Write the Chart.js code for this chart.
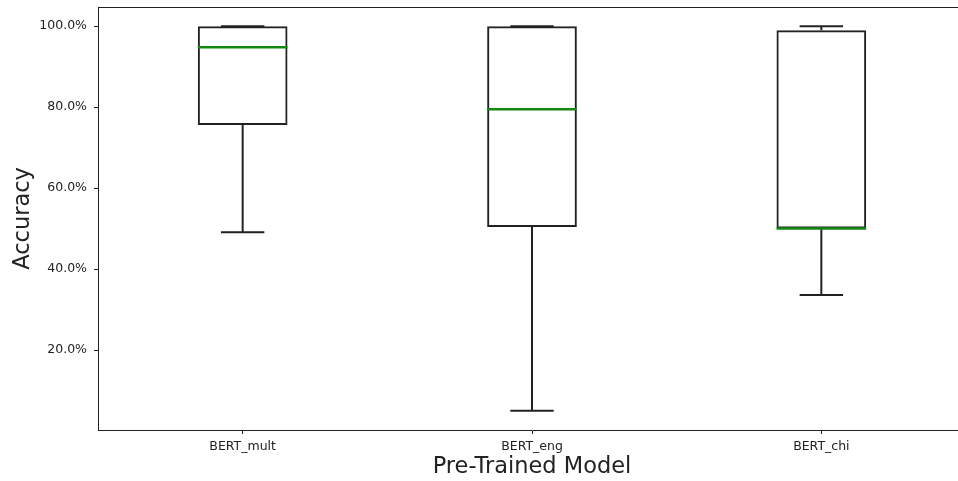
<!DOCTYPE html>
<html>
<head>
<meta charset="utf-8">
<script src="https://cdn.jsdelivr.net/npm/chart.js@4.4.0/dist/chart.umd.min.js"></script>
<style>
    html, body { margin: 0; padding: 0; background: #fff; overflow: hidden; }
    #wrap { width: 968px; height: 481px; position: relative; }
</style>
</head>
<body>
<div id="wrap"><canvas id="chart"></canvas></div>
<script>
// Box plot values (accuracy, %)
const models = ['BERT_mult', 'BERT_eng', 'BERT_chi'];
const whiskerLow = [49.1, 5.0, 33.6];
const quartile1 = [75.6, 50.4, 50.0];
const medians = [94.8, 79.5, 50.0];
const quartile3 = [100.0, 100.0, 99.0];
const whiskerHigh = [100.0, 100.0, 100.0];
const yTicks = [20, 40, 60, 80, 100];

const boxWidth = 0.31;   // fraction of a category slot
const capWidth = 0.15;
const ink = '#222';

// whiskers, caps, medians and the top spine
const boxExtras = {
    id: 'boxExtras',
    afterDatasetsDraw(chart) {
        const ctx = chart.ctx;
        const x = chart.scales.x;
        const y = chart.scales.y;
        const slot = x.getPixelForValue(1) - x.getPixelForValue(0);
        ctx.save();
        ctx.lineCap = 'butt';
        models.forEach((m, i) => {
            const cx = x.getPixelForValue(i);
            ctx.strokeStyle = ink;
            ctx.lineWidth = 2;
            // whiskers
            ctx.beginPath();
            ctx.moveTo(cx, y.getPixelForValue(quartile1[i]));
            ctx.lineTo(cx, y.getPixelForValue(whiskerLow[i]));
            ctx.moveTo(cx, y.getPixelForValue(quartile3[i]));
            ctx.lineTo(cx, y.getPixelForValue(whiskerHigh[i]));
            ctx.stroke();
            // caps
            const hw = slot * capWidth / 2;
            [whiskerLow[i], whiskerHigh[i]].forEach(v => {
                const py = y.getPixelForValue(v);
                ctx.beginPath();
                ctx.moveTo(cx - hw, py);
                ctx.lineTo(cx + hw, py);
                ctx.stroke();
            });
            // median
            const bw = slot * boxWidth / 2;
            const my = y.getPixelForValue(medians[i]);
            ctx.strokeStyle = '#128a12';
            ctx.lineWidth = 2.5;
            ctx.beginPath();
            ctx.moveTo(cx - bw, my);
            ctx.lineTo(cx + bw, my);
            ctx.stroke();
        });
        // top and right spines
        const a = chart.chartArea;
        ctx.strokeStyle = ink;
        ctx.lineWidth = 1;
        ctx.beginPath();
        ctx.moveTo(a.left, a.top + 0.5);
        ctx.lineTo(a.right, a.top + 0.5);
        ctx.lineTo(a.right, a.bottom);
        ctx.stroke();
        ctx.restore();
    }
};

new Chart(document.getElementById('chart'), {
    type: 'bar',
    data: {
        labels: models,
        datasets: [{
            label: 'IQR',
            data: models.map((_, i) => [quartile1[i], quartile3[i]]),
            backgroundColor: 'rgba(0,0,0,0)',
            borderColor: ink,
            borderWidth: 2,
            borderSkipped: false,
            categoryPercentage: 1,
            barPercentage: boxWidth
        }]
    },
    options: {
        responsive: true,
        maintainAspectRatio: false,
        animation: false,
        devicePixelRatio: 1,
        layout: { padding: { top: 7, right: 2, left: 0, bottom: 0 } },
        plugins: {
            legend: { display: false },
            tooltip: { enabled: false }
        },
        scales: {
            x: {
                grid: { display: true, offset: false, drawOnChartArea: false, drawTicks: true, tickLength: 4, color: ink },
                border: { display: true, color: ink, width: 1 },
                ticks: { color: ink, font: { family: 'DejaVu Sans', size: 12.5 }, padding: 5, maxRotation: 0 },
                title: {
                    display: true,
                    text: 'Pre-Trained Model',
                    color: ink,
                    font: { family: 'DejaVu Sans', size: 22.5 },
                    padding: { top: 0, bottom: 0 }
                },
                afterFit(scale) {
                    scale.height = 51;
                    scale.paddingLeft = 0;
                    scale.paddingRight = 0;
                }
            },
            y: {
                min: 0.25,
                max: 104.75,
                grid: { display: true, drawOnChartArea: false, drawTicks: true, tickLength: 4, color: ink },
                border: { display: true, color: ink, width: 1 },
                ticks: {
                    color: ink,
                    font: { family: 'DejaVu Sans', size: 12.5 },
                    padding: 7,
                    callback: v => v.toFixed(1) + '%'
                },
                afterBuildTicks(scale) { scale.ticks = yTicks.map(v => ({ value: v })); },
                title: {
                    display: true,
                    text: 'Accuracy',
                    color: ink,
                    font: { family: 'DejaVu Sans', size: 22.5 },
                    padding: { top: 10, bottom: 0 }
                },
                afterFit(scale) {
                    scale.width = 98;
                    scale.paddingTop = 0;
                    scale.paddingBottom = 0;
                }
            }
        }
    },
    plugins: [boxExtras]
});
</script>
</body>
</html>
